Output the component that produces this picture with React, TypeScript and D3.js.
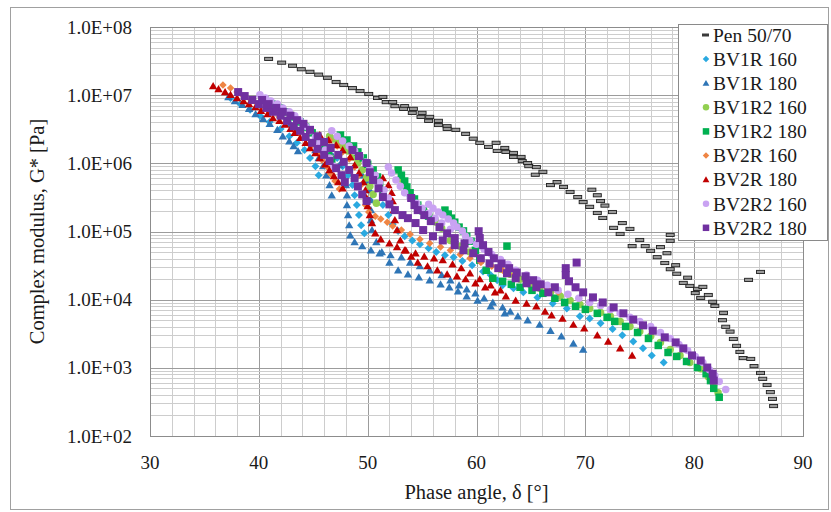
import React from "react";
import * as d3 from "d3";

type Pt = [number, number];

const xTickValues = [30, 40, 50, 60, 70, 80, 90];
const yTickValues = [1e2, 1e3, 1e4, 1e5, 1e6, 1e7, 1e8];
const yTickLabels = ["1.0E+02", "1.0E+03", "1.0E+04", "1.0E+05", "1.0E+06", "1.0E+07", "1.0E+08"];
const xAxisTitle = "Phase angle, δ [°]";
const yAxisTitle = "Complex modulus, G* [Pa]";
const seriesNames = ["Pen 50/70", "BV1R 160", "BV1R 180", "BV1R2 160", "BV1R2 180", "BV2R 160", "BV2R 180", "BV2R2 160", "BV2R2 180"];

// [phase angle (deg), complex modulus (Pa)]
const pen5070: Pt[] = [
  [40.9, 3.4e7], [42.1, 3.0e7], [43.1, 2.7e7], [43.9, 2.4e7], [44.7, 2.2e7], [45.5, 2.0e7], [46.3, 1.8e7], [47.1, 1.56e7],
  [47.8, 1.41e7], [48.6, 1.27e7], [49.3, 1.15e7], [50.1, 1.04e7], [50.9, 9.1e6], [51.4, 9.4e6], [51.7, 7.9e6], [52.3, 7.9e6],
  [52.5, 6.9e6], [53.4, 6.9e6], [53.3, 6.3e6], [54.2, 6.3e6], [54.1, 5.5e6], [55.0, 5.5e6], [54.9, 4.8e6], [55.7, 4.8e6],
  [55.6, 4.2e6], [56.5, 4.2e6], [56.5, 3.65e6], [57.3, 3.5e6], [57.3, 3.2e6], [58.1, 3.1e6], [59.0, 2.7e6], [59.7, 2.3e6],
  [60.3, 2.0e6], [61.1, 1.74e6], [61.8, 2.0e6], [61.9, 1.52e6], [62.6, 1.68e6], [62.7, 1.47e6], [63.4, 1.42e6], [63.4, 1.24e6],
  [64.1, 1.24e6], [64.2, 1.08e6], [64.7, 1.01e6], [64.8, 9.1e5], [65.5, 8.8e5], [65.4, 6.8e5], [66.1, 7.5e5], [66.8, 4.8e5],
  [67.4, 5.3e5], [68.0, 4.5e5], [68.6, 3.8e5], [70.6, 4.1e5], [69.3, 3.2e5], [71.1, 3.4e5], [69.8, 2.7e5], [71.4, 2.8e5],
  [70.4, 2.3e5], [71.8, 2.4e5], [71.1, 1.87e5], [72.5, 1.93e5], [71.6, 1.58e5], [73.4, 1.33e5], [72.6, 1.13e5], [74.1, 1.09e5],
  [73.2, 9.2e4], [75.0, 7.5e4], [74.3, 6.1e4], [76.0, 5.2e4], [75.5, 6.1e4], [76.9, 5.9e4], [76.6, 4.2e4], [77.5, 4.8e4],
  [77.3, 3.45e4], [78.3, 3.2e4], [77.8, 2.8e4], [78.4, 2.4e4], [79.4, 2.1e4], [79.0, 1.76e4], [79.6, 1.59e4], [80.3, 1.44e4],
  [80.8, 1.54e4], [80.1, 1.25e4], [80.6, 1.06e4], [81.3, 1.17e4], [81.7, 9.3e3], [81.9, 8.1e3], [82.7, 6.4e3], [82.6, 5.0e3],
  [82.9, 4.0e3], [83.3, 3.4e3], [83.6, 2.65e3], [83.9, 2.1e3], [84.2, 1.71e3], [84.5, 1.39e3], [85.2, 1.35e3], [85.5, 1.06e3],
  [86.1, 8.4e2], [86.3, 6.9e2], [86.7, 5.6e2], [87.0, 4.4e2], [87.2, 3.5e2], [87.3, 2.75e2],
  [77.8, 8.9e4], [77.8, 7.3e4], [85.0, 1.95e4], [86.1, 2.55e4],
];

const bv1r160: Pt[] = [
  [37.4, 9.1e6], [38.3, 7.4e6], [39.2, 6.1e6], [40.1, 5.0e6], [41.0, 4.05e6], [42.0, 3.2e6], [42.8, 2.5e6], [43.5, 2.0e6],
  [44.2, 1.57e6], [44.7, 1.2e6], [45.2, 9.1e5], [45.5, 6.7e5],
  [46.5, 1.57e6], [47.2, 1.2e6], [47.7, 9.1e5], [48.2, 6.7e5], [48.6, 4.8e5], [48.8, 3.4e5], [49.0, 2.44e5], [49.2, 1.74e5],
  [49.4, 1.24e5], [49.7, 9.4e4],
  [51.4, 2.44e5], [51.9, 1.74e5], [52.3, 1.28e5], [52.8, 1.02e5], [53.4, 8.5e4], [54.1, 7.4e4], [54.8, 6.5e4], [55.6, 5.7e4],
  [56.3, 5.0e4], [57.1, 4.5e4], [57.9, 4.2e4], [58.7, 3.7e4], [59.6, 3.2e4], [60.6, 2.6e4], [61.3, 2.3e4], [61.9, 1.93e4],
  [62.4, 1.63e4], [63.4, 1.47e4], [64.3, 1.28e4], [65.6, 1.08e4], [67.0, 8.8e3], [68.3, 7.4e3], [69.5, 5.7e3], [70.4, 5.3e3],
  [71.4, 4.5e3], [72.5, 3.7e3], [73.4, 3.0e3], [74.4, 2.44e3], [75.3, 1.93e3], [76.1, 1.52e3], [77.2, 1.2e3],
];

const bv1r180: Pt[] = [
  [37.2, 9.4e6], [37.8, 8.2e6], [38.5, 7.2e6], [39.1, 6.3e6], [39.7, 5.3e6], [40.4, 4.5e6], [41.0, 3.8e6], [41.7, 3.1e6],
  [42.2, 2.5e6], [42.8, 2.1e6], [43.2, 1.8e6], [43.6, 1.52e6],
  [42.9, 3.8e6], [43.5, 3.1e6], [44.2, 2.5e6], [44.7, 2.0e6], [45.2, 1.57e6], [45.5, 1.2e6], [45.9, 9.1e5], [46.2, 6.7e5],
  [46.5, 4.8e5], [46.7, 3.4e5],
  [45.4, 2.2e6], [46.2, 1.68e6], [46.8, 1.28e6], [47.4, 9.4e5], [47.7, 6.7e5], [48.0, 4.8e5], [48.1, 3.4e5], [48.1, 2.44e5],
  [48.2, 1.74e5], [48.3, 1.24e5], [48.4, 8.8e4], [48.8, 7.0e4], [49.5, 6.1e4], [50.3, 5.3e4], [51.1, 4.8e4], [52.1, 4.5e4],
  [53.1, 4.2e4], [53.9, 3.5e4], [54.8, 3.1e4], [55.7, 2.7e4], [56.8, 2.3e4], [57.6, 1.93e4], [58.4, 1.63e4], [59.1, 1.42e4],
  [59.9, 1.24e4], [60.7, 1.05e4], [61.5, 9.1e3], [62.4, 7.7e3], [63.1, 6.7e3],
  [49.5, 6.7e5], [49.9, 5.3e5], [50.2, 4.05e5], [50.3, 2.9e5], [50.3, 2.06e5], [50.3, 1.47e5], [50.4, 1.05e5], [50.8, 7.0e4],
  [51.3, 5.0e4], [52.0, 3.5e4], [52.8, 2.7e4], [53.7, 2.36e4], [54.7, 2.13e4], [55.7, 1.93e4], [56.7, 1.68e4], [57.5, 1.52e4],
  [58.3, 1.33e4], [59.1, 1.12e4], [60.1, 9.7e3], [61.3, 8.0e3], [62.6, 6.3e3], [63.8, 5.7e3], [64.7, 5.0e3], [65.8, 4.3e3],
  [66.8, 3.5e3], [67.8, 2.9e3], [68.9, 2.28e3], [69.8, 1.86e3],
];

const bv1r2_160: Pt[] = [
  [40.4, 8.8e6], [41.0, 7.7e6], [41.7, 6.7e6], [42.3, 5.9e6], [43.0, 5.1e6], [43.6, 4.3e6], [44.2, 3.7e6], [44.8, 3.0e6],
  [45.4, 2.44e6], [45.8, 1.93e6], [46.3, 1.52e6], [46.6, 1.2e6],
  [46.5, 2.5e6], [46.9, 2.28e6], [47.3, 2.06e6], [47.7, 1.8e6], [48.2, 1.52e6], [48.7, 1.24e6], [49.1, 1.01e6], [49.5, 8.0e5],
  [49.9, 6.1e5], [50.2, 4.6e5], [50.5, 3.5e5], [50.8, 2.6e5],
  [53.0, 5.9e5], [53.3, 4.8e5], [53.7, 3.8e5], [54.2, 3.0e5], [54.6, 2.44e5], [55.2, 2.0e5], [55.7, 1.63e5], [56.3, 1.37e5],
  [56.8, 1.12e5],
  [57.6, 7.4e4], [58.5, 6.1e4], [59.4, 5.0e4], [60.3, 4.05e4], [61.2, 3.3e4], [62.2, 2.8e4], [63.1, 2.36e4], [64.0, 2.0e4],
  [64.9, 1.68e4], [65.8, 1.47e4], [66.8, 1.28e4], [67.7, 1.12e4], [68.6, 9.7e3], [69.5, 8.5e3], [70.4, 7.4e3], [71.4, 6.5e3],
  [72.3, 5.7e3], [73.2, 4.8e3], [74.1, 4.05e3], [75.0, 3.4e3], [76.0, 2.9e3], [76.9, 2.36e3], [77.8, 1.86e3], [78.7, 1.52e3],
  [79.6, 1.2e3], [80.6, 9.7e2], [81.3, 7.4e2], [81.8, 5.7e2], [82.2, 4.3e2],
];

const bv1r2_180: Pt[] = [
  [40.6, 8.5e6], [41.2, 7.4e6], [41.9, 6.5e6], [42.5, 5.7e6], [43.1, 4.8e6], [43.8, 4.05e6], [44.3, 3.4e6], [44.9, 2.8e6],
  [45.4, 2.28e6], [45.9, 1.8e6], [46.4, 1.42e6], [46.7, 1.12e6],
  [47.5, 2.6e6], [48.1, 2.2e6], [48.7, 1.8e6], [49.1, 1.47e6], [49.6, 1.2e6], [50.0, 9.7e5], [50.5, 8.0e5], [50.9, 6.3e5],
  [51.1, 5.0e5], [51.4, 3.8e5],
  [52.8, 8.0e5], [53.1, 6.7e5], [53.4, 5.5e5], [53.6, 4.5e5], [53.9, 3.7e5], [54.3, 3.0e5], [54.6, 2.44e5], [55.1, 2.0e5],
  [55.6, 1.68e5],
  [57.1, 2.06e5], [57.4, 1.8e5], [57.7, 1.57e5], [58.0, 1.37e5], [58.4, 1.16e5], [58.8, 1.02e5], [59.1, 8.5e4], [59.5, 7.2e4],
  [59.9, 5.3e4], [60.3, 3.8e4], [60.9, 2.7e4], [61.5, 2.06e4], [62.4, 1.86e4], [63.2, 1.68e4], [64.0, 1.52e4], [65.1, 1.37e4],
  [66.1, 1.24e4], [67.2, 1.05e4], [68.1, 9.1e3], [69.1, 8.0e3], [70.0, 7.2e3], [71.1, 6.3e3], [72.0, 5.5e3], [72.7, 4.8e3],
  [73.7, 4.05e3], [74.8, 3.3e3], [75.8, 2.7e3], [76.7, 2.13e3], [77.6, 1.68e3], [78.4, 1.47e3], [79.3, 1.24e3], [80.3, 1.01e3],
  [81.1, 8.2e2], [81.5, 6.5e2], [81.8, 5.0e2], [82.3, 3.7e2],
  [62.8, 6.1e4],
];

const bv2r160: Pt[] = [
  [36.7, 1.41e7], [37.4, 1.27e7], [38.0, 1.11e7], [38.6, 9.7e6], [39.3, 8.5e6], [39.9, 7.4e6], [40.6, 6.5e6], [41.2, 5.7e6],
  [41.9, 4.8e6], [42.5, 4.05e6], [43.1, 3.4e6], [43.7, 2.8e6], [44.3, 2.28e6], [44.8, 1.8e6], [45.4, 1.42e6], [45.8, 1.12e6],
  [46.3, 8.8e5], [46.6, 7.0e5], [47.0, 5.5e5], [47.4, 4.2e5],
  [46.5, 2.2e6], [47.2, 1.8e6], [47.7, 1.47e6], [48.3, 1.16e6], [48.8, 8.8e5], [49.1, 6.5e5], [49.4, 4.8e5], [49.6, 3.4e5],
  [49.8, 2.44e5], [50.1, 1.93e5], [50.7, 1.68e5], [51.2, 1.52e5], [51.8, 1.37e5], [52.3, 1.2e5], [53.1, 1.05e5], [53.9, 9.1e4],
  [54.8, 7.7e4], [55.7, 6.7e4], [56.7, 5.9e4], [57.6, 5.3e4], [58.5, 4.6e4], [59.4, 4.05e4], [60.4, 3.5e4], [61.4, 3.1e4],
  [62.4, 2.7e4], [63.5, 2.36e4], [64.5, 2.0e4], [65.5, 1.74e4], [66.5, 1.47e4], [67.5, 1.28e4],
];

const bv2r180: Pt[] = [
  [35.8, 1.36e7], [36.3, 1.23e7], [36.9, 1.11e7], [37.4, 1.01e7], [38.0, 9.1e6], [38.6, 8.2e6], [39.1, 7.4e6], [39.7, 6.7e6],
  [40.2, 5.9e6], [40.8, 5.3e6], [41.3, 4.6e6], [41.9, 4.2e6], [42.4, 3.7e6], [42.9, 3.2e6], [43.3, 2.8e6], [43.8, 2.36e6],
  [44.3, 2.0e6], [44.7, 1.68e6], [45.2, 1.42e6], [45.6, 1.2e6], [46.1, 9.7e5], [46.5, 8.0e5], [46.9, 6.5e5], [47.3, 5.3e5],
  [47.7, 4.3e5],
  [45.6, 2.6e6], [46.4, 2.2e6], [47.1, 1.86e6], [47.7, 1.57e6], [48.4, 1.24e6], [48.8, 9.4e5], [49.2, 7.2e5], [49.6, 5.3e5],
  [49.8, 4.05e5], [49.9, 3.1e5], [50.0, 2.36e5], [50.2, 1.74e5], [50.4, 1.33e5], [50.7, 9.4e4], [51.2, 7.7e4], [52.0, 6.7e4],
  [52.7, 5.9e4], [53.5, 5.3e4], [54.4, 4.8e4], [55.2, 4.3e4], [56.1, 4.05e4], [56.9, 3.8e4], [57.8, 3.3e4], [58.6, 2.9e4],
  [59.4, 2.44e4], [60.3, 2.0e4], [61.3, 1.63e4], [62.2, 1.37e4],
  [51.4, 6.1e5], [51.9, 4.8e5], [52.2, 3.7e5], [52.3, 2.8e5], [52.4, 2.06e5], [52.5, 1.47e5], [52.7, 1.05e5], [53.0, 7.4e4],
  [53.4, 5.3e4], [54.0, 4.3e4], [54.6, 3.5e4], [55.5, 3.1e4], [56.4, 2.7e4], [57.3, 2.36e4], [58.2, 2.2e4], [59.0, 2.0e4],
  [59.9, 1.74e4], [60.8, 1.52e4], [61.7, 1.28e4], [62.7, 1.12e4], [63.6, 9.7e3], [64.6, 8.8e3], [65.5, 8.0e3], [66.3, 6.7e3],
  [66.9, 5.9e3], [67.9, 5.3e3], [68.9, 4.3e3], [69.9, 3.8e3], [71.1, 3.0e3], [72.1, 2.44e3], [73.2, 1.93e3], [74.3, 1.52e3],
];

const bv2r2_160: Pt[] = [
  [40.1, 1.01e7], [40.6, 9.1e6], [41.1, 8.2e6], [41.7, 7.4e6], [42.2, 6.5e6], [42.8, 5.7e6], [43.3, 5.0e6], [43.8, 4.2e6],
  [44.3, 3.5e6], [44.7, 3.0e6], [45.2, 2.44e6], [45.6, 2.0e6], [46.1, 1.57e6], [46.5, 1.2e6], [46.9, 9.1e5],
  [46.7, 3.0e6], [47.2, 2.5e6], [47.7, 2.13e6], [48.3, 1.8e6], [48.8, 1.52e6], [49.3, 1.28e6], [49.8, 1.05e6], [50.2, 8.5e5],
  [50.7, 6.7e5], [51.1, 5.3e5], [51.5, 4.05e5], [51.9, 3.1e5],
  [51.9, 8.8e5], [52.2, 7.2e5], [52.6, 5.7e5], [53.0, 4.6e5], [53.4, 3.7e5], [53.9, 3.1e5], [54.5, 2.6e5], [55.0, 2.2e5],
  [55.6, 1.86e5], [56.2, 1.57e5], [56.8, 1.33e5], [57.6, 1.08e5],
  [55.6, 2.5e5], [56.0, 2.2e5], [56.5, 1.93e5], [56.9, 1.74e5], [57.4, 1.52e5], [57.9, 1.33e5], [58.2, 1.16e5], [58.7, 1.02e5],
  [59.0, 8.5e4], [59.4, 7.4e4], [60.0, 6.5e4], [60.7, 5.5e4], [61.4, 4.6e4], [62.2, 3.9e4], [62.9, 3.3e4], [63.6, 2.7e4],
  [64.6, 2.3e4], [65.6, 1.93e4], [66.5, 1.63e4], [67.5, 1.37e4], [68.4, 1.2e4], [69.4, 1.05e4], [70.4, 9.1e3], [71.4, 8.2e3],
  [72.3, 7.2e3], [73.2, 6.3e3], [74.1, 5.5e3], [75.0, 4.8e3], [76.0, 4.05e3], [76.9, 3.3e3], [77.8, 2.7e3], [78.6, 2.2e3],
  [79.4, 1.8e3], [80.1, 1.47e3], [80.8, 1.2e3], [81.4, 9.4e2], [81.9, 7.7e2], [82.3, 6.3e2], [82.9, 4.8e2],
];

const bv2r2_180: Pt[] = [
  [38.1, 1.11e7], [38.7, 9.7e6], [39.4, 8.5e6], [40.0, 7.4e6], [40.7, 6.5e6], [41.3, 5.7e6], [42.0, 5.0e6], [42.6, 4.2e6],
  [43.2, 3.5e6], [43.8, 3.0e6], [44.3, 2.44e6], [44.9, 2.0e6], [45.4, 1.63e6], [46.0, 1.33e6], [46.5, 1.08e6], [47.1, 8.5e5],
  [47.6, 6.7e5], [47.9, 5.3e5],
  [40.3, 8.5e6], [40.9, 7.4e6], [41.6, 6.5e6], [42.2, 5.7e6], [42.9, 5.0e6], [43.5, 4.3e6], [44.1, 3.8e6], [44.7, 3.1e6],
  [45.4, 2.5e6], [46.0, 2.06e6], [46.6, 1.68e6], [47.3, 1.33e6], [47.8, 1.05e6], [48.3, 8.0e5], [48.8, 6.1e5], [49.1, 4.6e5],
  [49.5, 3.5e5], [49.9, 2.8e5],
  [48.6, 1.57e6], [49.2, 1.28e6], [49.9, 1.01e6], [50.2, 7.4e5], [50.5, 5.7e5], [51.0, 4.3e5], [51.4, 3.2e5], [52.0, 2.5e5],
  [52.5, 2.06e5], [53.2, 1.74e5], [53.7, 1.57e5], [54.4, 1.33e5], [55.1, 1.05e5], [56.0, 8.5e4], [56.9, 7.4e4], [58.0, 6.3e4],
  [58.8, 5.3e4], [59.7, 4.8e4], [60.4, 4.05e4], [61.2, 3.4e4], [62.0, 2.9e4], [62.8, 2.44e4], [63.6, 2.06e4], [64.6, 1.74e4],
  [65.5, 1.52e4], [66.6, 1.28e4],
  [54.0, 3.1e5], [54.3, 2.44e5], [54.6, 2.06e5], [55.2, 1.74e5], [55.8, 1.42e5], [56.6, 1.16e5], [57.3, 9.4e4], [58.0, 8.0e4],
  [58.9, 6.7e4],
  [60.2, 1.01e5], [60.3, 8.0e4], [60.6, 6.3e4], [61.1, 5.0e4], [61.6, 4.05e4], [62.3, 3.4e4], [63.0, 2.9e4], [63.7, 2.5e4],
  [64.5, 2.2e4], [65.2, 1.93e4], [65.9, 1.68e4], [67.2, 1.52e4],
  [69.2, 3.5e4], [68.2, 2.9e4], [68.2, 2.3e4], [68.5, 1.86e4], [69.1, 1.52e4], [69.8, 1.28e4], [70.7, 1.08e4], [71.6, 9.1e3],
  [72.6, 7.7e3], [73.5, 6.3e3], [74.4, 5.1e3], [75.3, 4.2e3], [76.2, 3.5e3], [77.3, 2.8e3], [78.3, 2.36e3], [79.0, 1.93e3],
  [79.8, 1.52e3], [80.6, 1.28e3], [81.2, 1.01e3], [81.7, 8.2e2], [81.8, 6.5e2],
];

const seriesData: Pt[][] = [pen5070, bv1r160, bv1r180, bv1r2_160, bv1r2_180, bv2r160, bv2r180, bv2r2_160, bv2r2_180];

const seriesStyle = [
  { shape: "dash", color: "#2a2a2a", size: 8 },
  { shape: "diamond", color: "#2aa9e0", size: 8 },
  { shape: "triangle", color: "#2e75b6", size: 8 },
  { shape: "circle", color: "#92d050", size: 7.5 },
  { shape: "square", color: "#00b050", size: 7.5 },
  { shape: "diamond", color: "#ef8544", size: 7.5 },
  { shape: "triangle", color: "#c00000", size: 8 },
  { shape: "circle", color: "#c9a2f2", size: 7.5 },
  { shape: "square", color: "#7030a0", size: 8 },
];

function marker(shape: string, cx: number, cy: number, s: number, color: string, key: string) {
  const h = s / 2;
  switch (shape) {
    case "dash":
      return <rect key={key} x={cx - h} y={cy - 1.6} width={s} height={3.2} fill="#9a9a9a" stroke="#1e1e1e" strokeWidth={0.9} />;
    case "diamond":
      return <path key={key} d={`M${cx},${cy - h}L${cx + h},${cy}L${cx},${cy + h}L${cx - h},${cy}Z`} fill={color} />;
    case "triangle":
      return <path key={key} d={`M${cx},${cy - h}L${cx + h * 1.05},${cy + h * 0.8}L${cx - h * 1.05},${cy + h * 0.8}Z`} fill={color} />;
    case "circle":
      return <circle key={key} cx={cx} cy={cy} r={h} fill={color} />;
    default:
      return <rect key={key} x={cx - h} y={cy - h} width={s} height={s} fill={color} />;
  }
}

export default function App() {
  const W = 831;
  const H = 512;
  const left = 150, right = 803, top = 27, bottom = 436;
  const x = d3.scaleLinear().domain([30, 90]).range([left, right]);
  const y = d3.scaleLog().domain([1e2, 1e8]).range([bottom, top]);
  const font = "'Liberation Serif', 'Times New Roman', serif";
  const textColor = "#1a1a1a";

  const xMinor = d3.range(30, 91, 2);
  const yMinor: number[] = [];
  for (let k = 2; k < 8; k++) for (let m = 2; m <= 9; m++) yMinor.push(m * Math.pow(10, k));

  const legendX = 678, legendY = 24, legendW = 149, legendH = 216;
  const legendRow0 = 35, legendStep = 24.1;

  return (
    <svg width={W} height={H} style={{ position: "absolute", left: 0, top: 0, background: "#fff" }}>
      <rect x={0} y={0} width={W} height={H} fill="#fff" />
      <rect x={10.5} y={7.5} width={818} height={502} fill="none" stroke="#a0a0a0" strokeWidth={1} />

      {/* grid */}
      <g shapeRendering="crispEdges">
        {xMinor.map((v) => (
          <line key={"xm" + v} x1={Math.round(x(v)) + 0.5} x2={Math.round(x(v)) + 0.5} y1={top} y2={bottom}
            stroke={v % 10 === 0 ? "#9c9c9c" : "#cdcdcd"} strokeWidth={1} />
        ))}
        {yMinor.map((v, i) => (
          <line key={"ym" + i} x1={left} x2={right} y1={Math.round(y(v)) + 0.5} y2={Math.round(y(v)) + 0.5}
            stroke="#cdcdcd" strokeWidth={1} />
        ))}
        {yTickValues.map((v) => (
          <line key={"yM" + v} x1={left} x2={right} y1={Math.round(y(v)) + 0.5} y2={Math.round(y(v)) + 0.5}
            stroke="#9c9c9c" strokeWidth={1} />
        ))}
        <rect x={left + 0.5} y={top + 0.5} width={right - left} height={bottom - top} fill="none" stroke="#8c8c8c" strokeWidth={1} />
      </g>

      {/* data */}
      {seriesData.map((data, si) => (
        <g key={"s" + si}>
          {data.map((d, i) => marker(seriesStyle[si].shape, x(d[0]), y(d[1]), seriesStyle[si].size, seriesStyle[si].color, si + "-" + i))}
        </g>
      ))}

      {/* axes labels */}
      {yTickValues.map((v, i) => (
        <text key={"yt" + v} x={132} y={y(v)} dy="0.35em" textAnchor="end" fontFamily={font} fontSize={19} fill={textColor}>
          {yTickLabels[i]}
        </text>
      ))}
      {xTickValues.map((v) => (
        <text key={"xt" + v} x={x(v)} y={469} textAnchor="middle" fontFamily={font} fontSize={19} fill={textColor}>
          {v}
        </text>
      ))}
      <text x={(left + right) / 2} y={499} textAnchor="middle" fontFamily={font} fontSize={20.5} fill={textColor}>
        {xAxisTitle}
      </text>
      <text transform={`translate(37,${(top + bottom) / 2}) rotate(-90)`} dy="0.35em" textAnchor="middle" fontFamily={font} fontSize={20.5} fill={textColor}>
        {yAxisTitle}
      </text>

      {/* legend */}
      <rect x={legendX + 0.5} y={legendY + 0.5} width={legendW} height={legendH} fill="#fff" stroke="#8a8a8a" strokeWidth={1} />
      {seriesNames.map((name, i) => {
        const cy = legendRow0 + i * legendStep;
        const st = seriesStyle[i];
        return (
          <g key={"lg" + i}>
            {st.shape === "dash"
              ? <rect x={702} y={cy - 1.5} width={7} height={3} fill="#3a3a3a" />
              : marker(st.shape, 706, cy, st.shape === "square" ? 6.5 : 6.5, st.color, "lm" + i)}
            <text x={713} y={cy} dy="0.35em" fontFamily={font} fontSize={19.5} fill={textColor}>{name}</text>
          </g>
        );
      })}
    </svg>
  );
}
